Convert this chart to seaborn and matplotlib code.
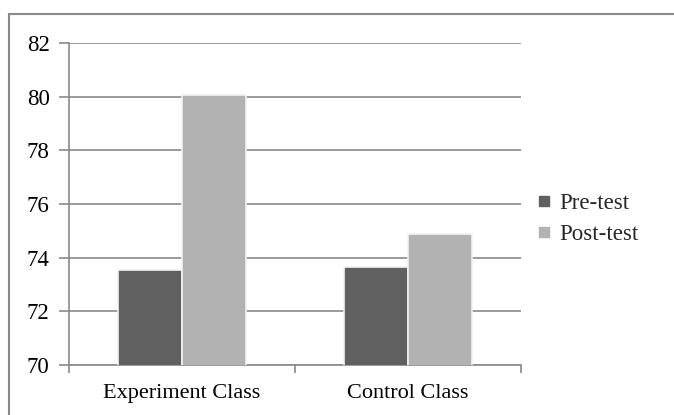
import matplotlib
matplotlib.use("Agg")
import matplotlib.pyplot as plt
import matplotlib.patches as mpatches
from matplotlib.lines import Line2D
import seaborn as sns
import pandas as pd

# Mean scores per class, before and after the treatment
classes = ["Experiment Class", "Control Class"]
tests = ["Pre-test", "Post-test"]
pre_scores = [73.55, 73.66]
post_scores = [80.08, 74.88]
y_ticks = [70, 72, 74, 76, 78, 80, 82]

df = pd.DataFrame({
    "cls": classes * 2,
    "test": [tests[0]] * 2 + [tests[1]] * 2,
    "score": pre_scores + post_scores,
})

sns.set_theme(style="white")
plt.rcParams["font.family"] = ["Liberation Serif", "DejaVu Serif"]

palette = {"Pre-test": "#606060", "Post-test": "#b2b2b2"}
grid_col = "#8a8a8a"

fig = plt.figure(figsize=(6.74, 4.15), dpi=100)
ax = fig.add_axes([69 / 674, 1 - 365 / 415, (521 - 69) / 674, (365 - 43) / 415])

sns.barplot(data=df, x="cls", y="score", hue="test", order=classes,
            hue_order=tests, palette=palette, width=0.565, gap=0,
            edgecolor="#f2f2f2", linewidth=1.2, saturation=1,
            ax=ax, legend=False, zorder=3)

ax.set_ylim(70, 82)
ax.set_xlim(-0.5, 1.5)
ax.set_yticks(y_ticks)
ax.set_yticklabels([str(v) for v in y_ticks])
ax.set_xlabel("")
ax.set_ylabel("")

ax.yaxis.grid(True, color=grid_col, linewidth=1.2, zorder=0)
ax.set_axisbelow(True)

for side in ["top", "right"]:
    ax.spines[side].set_visible(False)
for side in ["left", "bottom"]:
    ax.spines[side].set_color(grid_col)
    ax.spines[side].set_linewidth(1.2)

ax.tick_params(axis="y", which="major", direction="out", length=7,
               width=1.2, color=grid_col, labelsize=16.5, pad=7,
               labelcolor="black", left=True)
ax.tick_params(axis="x", which="major", length=0, labelsize=16,
               pad=14, labelcolor="black")
ax.set_xticks([-0.5, 0.5, 1.5], minor=True)
ax.tick_params(axis="x", which="minor", direction="out", length=6,
               width=1.2, color=grid_col, bottom=True)

handles = [Line2D([0], [0], marker="s", linestyle="none", markersize=7,
                  markerfacecolor=palette[t], markeredgecolor=palette[t])
           for t in tests]
fig.legend(handles, tests, loc="center left",
           bbox_to_anchor=(515 / 674, 1 - 219 / 415), frameon=False,
           fontsize=16.5, handlelength=0.7, handletextpad=0.35,
           labelspacing=0.45)

# outer frame around the whole chart
fig.patches.append(mpatches.Rectangle((9 / 674, -0.05), 1.2, 1 - 14 / 415 + 0.05,
                                      transform=fig.transFigure, fill=False,
                                      edgecolor="#8a8a8a", linewidth=1.5))

fig.savefig("out.png", dpi=100)
